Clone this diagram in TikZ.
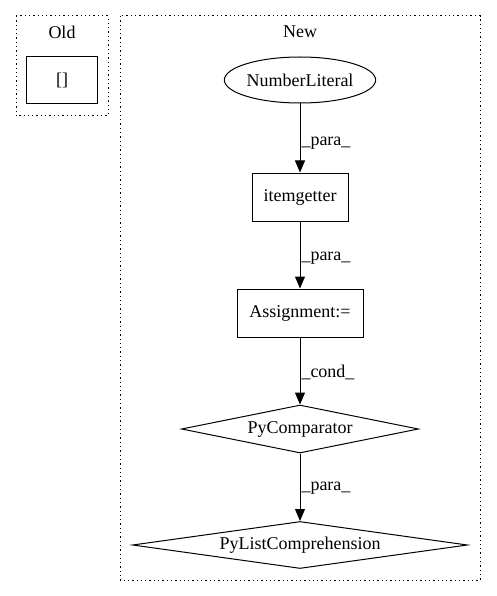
\documentclass[tikz,border=0pt]{standalone}
\usepackage{fontspec}
\setmainfont{Liberation Serif}
\usetikzlibrary{arrows.meta,shapes.geometric}

\tikzset{
  cluster/.style={draw=black, line width=1pt, dash pattern=on 1.3pt off 3pt},
  opbox/.style={draw=black, rectangle, line width=1pt, inner sep=0},
  opdiamond/.style={draw=black, diamond, aspect=6, line width=1pt, inner sep=0},
  flow/.style={-{Triangle[length=12pt, width=10pt]}, line width=1pt},
  elabel/.style={anchor=west, inner sep=1pt}
}

\begin{document}
\begin{tikzpicture}[x=1pt, y=-1pt, font=\fontsize{18}{20}\selectfont]
\useasboundingbox (0,0) rectangle (496,596);

% clusters
\draw[cluster] (16,16) rectangle (108,116);
\node (oldlabel) at (62,32) {Old};
\draw[cluster] (120,16) rectangle (480,580);
\node (newlabel) at (300,32) {New};

% old part
\node[opbox, minimum width=71pt, minimum height=47pt] (brackets) at (62,80) {[]};

% new part
\node[draw=black, ellipse, line width=1pt, minimum width=144pt, minimum height=46pt, inner sep=0] (numlit) at (300,80) {NumberLiteral};
\node[opbox, minimum width=96pt, minimum height=48pt] (itemget) at (300,197) {itemgetter};
\node[opbox, minimum width=126pt, minimum height=48pt] (assign) at (300,313) {Assignment:=};
\node[opdiamond, minimum width=237pt, minimum height=48pt] (pycomp) at (300,429) {PyComparator};
\node[opdiamond, minimum width=335pt, minimum height=47pt] (pylist) at (300,545) {PyListComprehension};

% edges
\draw[flow] (numlit) -- node[elabel, pos=0.58] {\_para\_} (itemget);
\draw[flow] (itemget) -- node[elabel, pos=0.55] {\_para\_} (assign);
\draw[flow] (assign) -- node[elabel, pos=0.52] {\_cond\_} (pycomp);
\draw[flow] (pycomp) -- node[elabel, pos=0.52] {\_para\_} (pylist);

\end{tikzpicture}
\end{document}
